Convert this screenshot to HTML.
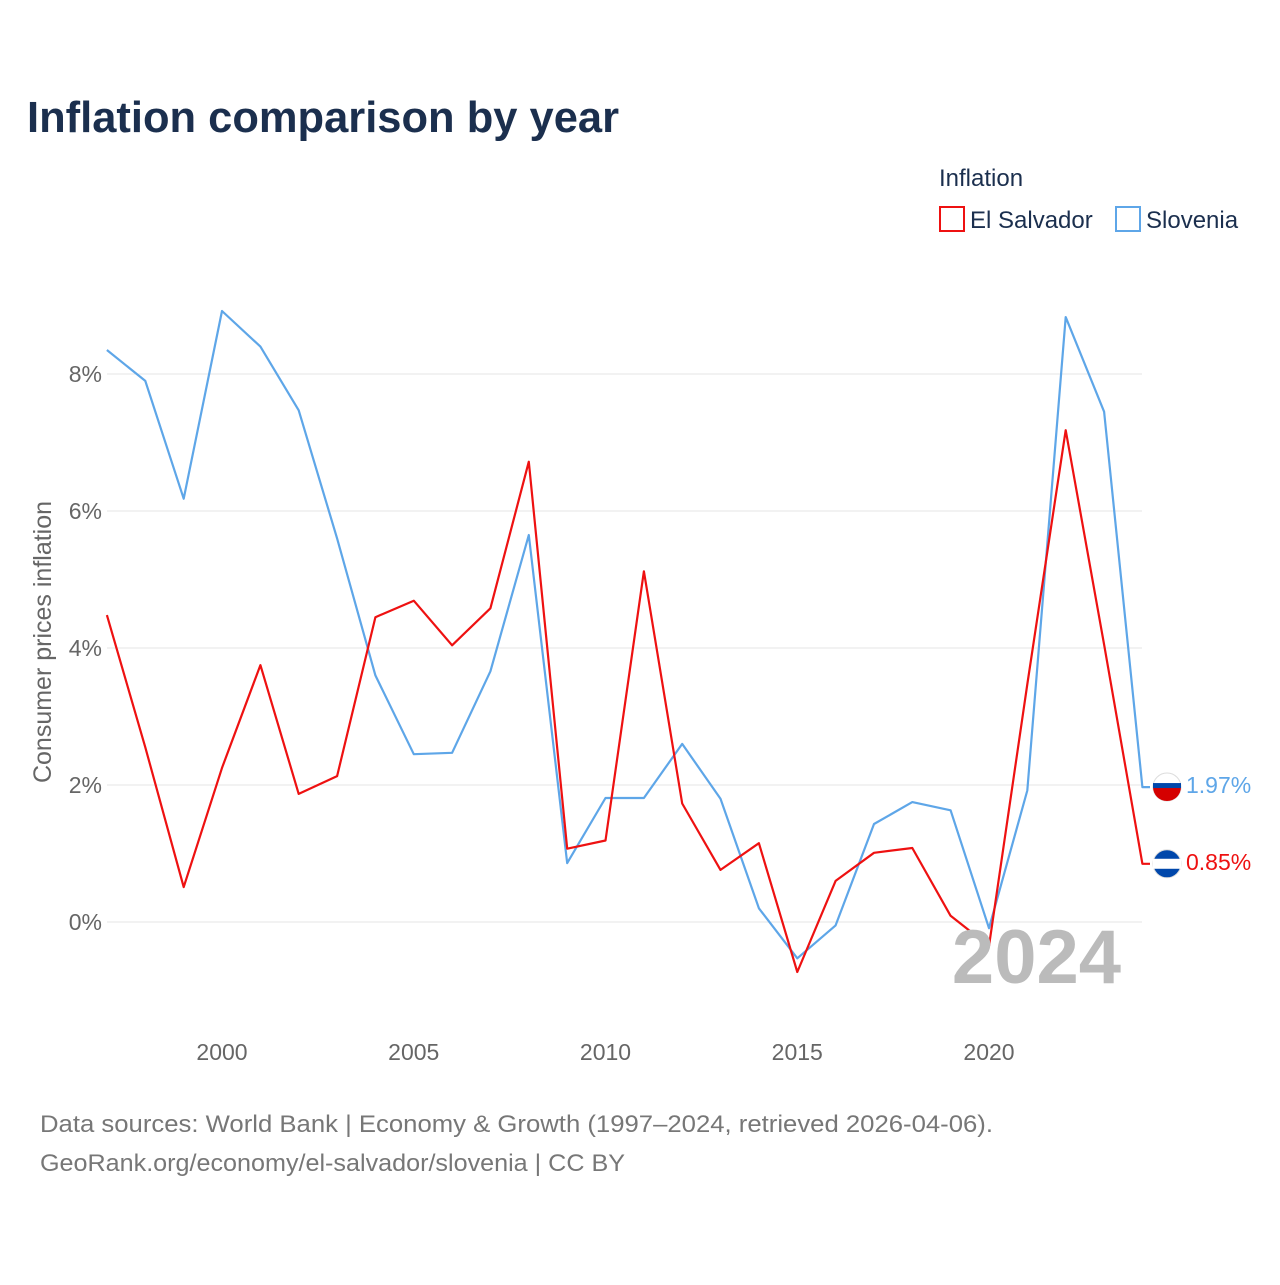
<!DOCTYPE html>
<html><head><meta charset="utf-8"><style>
body{margin:0;background:#fff;width:1280px;height:1280px;overflow:hidden;font-family:"Liberation Sans",sans-serif}
</style></head><body>
<svg width="1280" height="1280" xmlns="http://www.w3.org/2000/svg" font-family="Liberation Sans, sans-serif">
<text x="27" y="132" font-size="44" font-weight="bold" fill="#1b2f4e" textLength="592" lengthAdjust="spacingAndGlyphs">Inflation comparison by year</text>
<g>
<text x="939" y="186" font-size="24" fill="#1b2f4e">Inflation</text>
<g><rect x="940" y="207" width="24" height="24" fill="none" stroke="#ee1111" stroke-width="2"/><text x="970" y="228" font-size="24" fill="#1b2f4e">El Salvador</text></g>
<g><rect x="1116" y="207" width="24" height="24" fill="none" stroke="#5ea6e8" stroke-width="2"/><text x="1146" y="228" font-size="24" fill="#1b2f4e">Slovenia</text></g>
</g>
<g id="grid"></g><g id="xt"></g><g id="lines"></g>
<text x="51" y="642" font-size="25" fill="#666" transform="rotate(-90 51 642)" text-anchor="middle">Consumer prices inflation</text>
<text x="1121" y="983" font-size="76" font-weight="bold" fill="#bbb" text-anchor="end">2024</text>
<text x="40" y="1132" font-size="24" fill="#777" textLength="953" lengthAdjust="spacingAndGlyphs">Data sources: World Bank | Economy &amp; Growth (1997–2024, retrieved 2026-04-06).</text>
<text x="40" y="1171" font-size="24" fill="#777" textLength="585" lengthAdjust="spacingAndGlyphs">GeoRank.org/economy/el-salvador/slovenia | CC BY</text>
</svg>
<script>
const years=[1997,1998,1999,2000,2001,2002,2003,2004,2005,2006,2007,2008,2009,2010,2011,2012,2013,2014,2015,2016,2017,2018,2019,2020,2021,2022,2023,2024];
const elSalvador=[4.48,2.55,0.51,2.25,3.75,1.87,2.13,4.45,4.69,4.04,4.58,6.72,1.07,1.19,5.12,1.73,0.76,1.15,-0.73,0.60,1.01,1.08,0.09,-0.35,3.47,7.18,4.05,0.85];
const slovenia=[8.35,7.9,6.18,8.92,8.4,7.47,5.6,3.6,2.45,2.47,3.66,5.65,0.86,1.81,1.81,2.6,1.8,0.2,-0.53,-0.05,1.43,1.75,1.63,-0.09,1.92,8.83,7.45,1.97];
const yTicks=[0,2,4,6,8];
const xTicks=[2000,2005,2010,2015,2020];
const NS="http://www.w3.org/2000/svg";
const X=y=>222+(y-2000)*38.35, Y=v=>922-v*68.5;
function mk(t,a,p){const e=document.createElementNS(NS,t);for(const k in a)e.setAttribute(k,a[k]);p.appendChild(e);return e;}
const g=document.getElementById('grid');
yTicks.forEach(v=>{
 const l=mk('line',{x1:107,x2:1142,y1:Y(v),y2:Y(v),stroke:'#e6e6e6','stroke-width':1},g);
 
 
 const t=mk('text',{x:102,y:Y(v)+8,'font-size':23,fill:'#666','text-anchor':'end'},g);t.textContent=v+'%';
 
 
});
const xt=document.getElementById('xt');
xTicks.forEach(v=>{const t=mk('text',{x:X(v),y:1060,'font-size':23,fill:'#666','text-anchor':'middle'},xt);t.textContent=v;
 
 });
const L=document.getElementById('lines');
function series(vals,col,name,label){
 const d=vals.map((v,i)=>(i?'L':'M')+X(years[i]).toFixed(1)+','+Y(v).toFixed(1)).join('')+'H1150';
 const p=mk('path',{d:d,fill:'none',stroke:col,'stroke-width':2.2,'stroke-linejoin':'round'},L);
 
 
 const last=vals[vals.length-1],cy=Y(last);
 const c=mk('circle',{cx:1167,cy:cy,r:14,fill:name==='slovenia'?'#fff':'#0047ab',stroke:'#ddd'},L);
 
 
 if(name==='slovenia')mk('path',{d:`M1153,${cy}h28a14,14 0 0 1 -28,0z`,fill:'#d50000'},L),mk('rect',{x:1153,y:cy-4,width:28,height:5,fill:'#0047ab'},L);
 else mk('rect',{x:1153,y:cy-5,width:28,height:10,fill:'#fff'},L);
 const t=mk('text',{x:1186,y:cy+6,'font-size':23,fill:col},L);t.textContent=label;
 
 
}
series(slovenia,'#5ea6e8','slovenia',slovenia[slovenia.length-1].toFixed(2)+'%');
series(elSalvador,'#ee1111','el-salvador',elSalvador[elSalvador.length-1].toFixed(2)+'%');
</script>
</body></html>
